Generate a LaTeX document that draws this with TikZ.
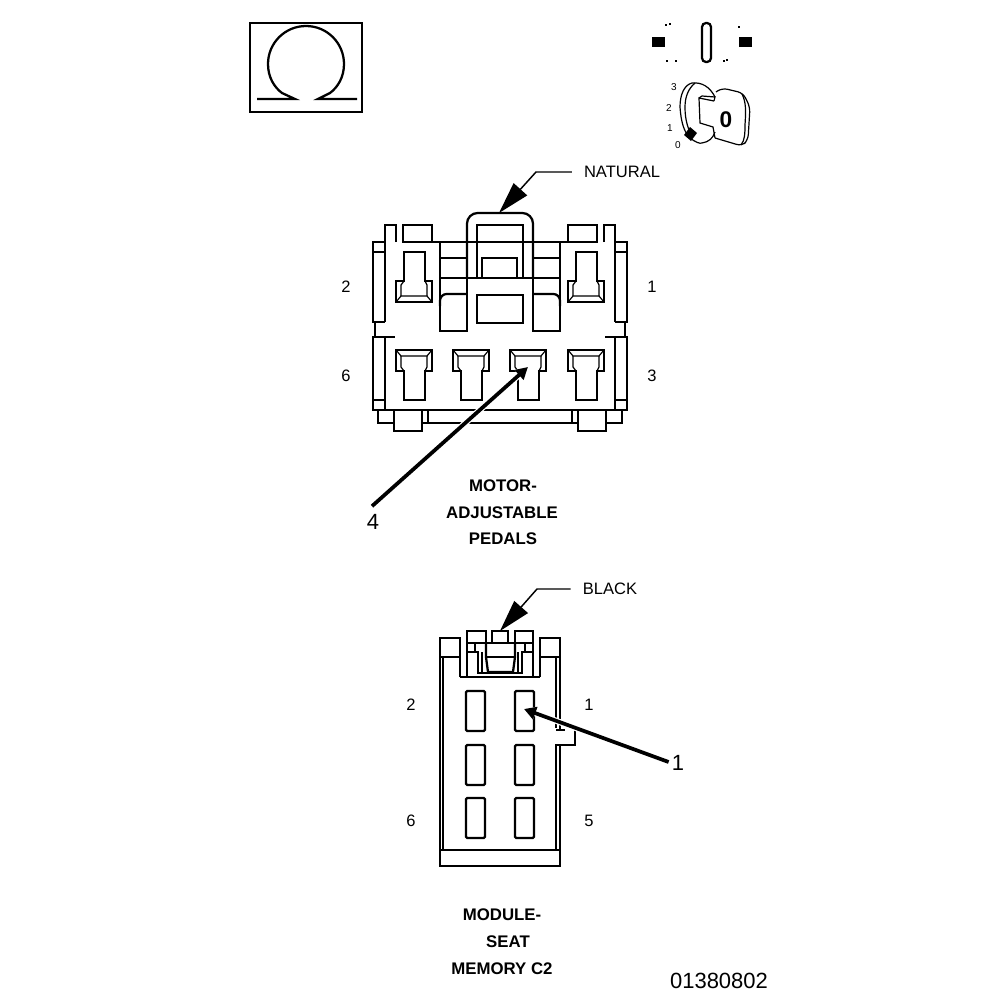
\documentclass[tikz,border=0pt]{standalone}
\usepackage{fontspec}
\setmainfont{Liberation Sans}
\usetikzlibrary{arrows.meta}
\tikzset{
  ln/.style = {line width=1.7pt, line join=miter},
  thin ln/.style = {line width=0.9pt},
  lab/.style = {font=\fontsize{12.4}{14}\selectfont, inner sep=0pt},
  title/.style = {font=\bfseries\fontsize{12.6}{14}\selectfont, inner sep=0pt},
  big/.style = {font=\fontsize{16.5}{18}\selectfont, inner sep=0pt},
  keynum/.style = {font=\fontsize{7.5}{9}\selectfont, inner sep=0pt},
  wedge/.style = {line width=1.1pt, -{Triangle[length=24pt,width=13.5pt]}},
  pointer/.style = {line width=2.8pt, -{Triangle[length=9pt,width=9.5pt]}, preaction={draw=white, line width=4.6pt}},
  termcell/.pic = {
    \draw[ln] (-18,0) -- (18,0) -- (18,21) -- (11,21) -- (11,50) -- (-10,50) -- (-10,21) -- (-18,21) -- cycle;
    \draw[thin ln] (-18,0) -- (-13,6) -- (13,6) -- (18,0);
    \draw[thin ln] (-13,6) -- (-13,17) -- (-10,21);
    \draw[thin ln] (13,6) -- (13,17) -- (11,21);
  }
}
\begin{document}
\begin{tikzpicture}[x=0.75pt,y=-0.75pt]
  \useasboundingbox (0,0) rectangle (1008,1000);

  % omega box
  \draw[ln] (250,23) rectangle (362,112);
  \draw[ln] (257,99) -- (295,99) -- (282,93) .. controls (274,87) and (268,77) .. (268,64) .. controls (268,43) and (285,26) .. (306,26) .. controls (327,26) and (344,43) .. (344,64) .. controls (344,77) and (338,87) .. (330,93) -- (318,99) -- (357,99);

  % key switch
  \fill (652,37) rectangle (665,47);
  \fill (739,37) rectangle (752,47);
  \foreach \dx/\dy in {665/24,669/23,738/26,666/60,675/60,723/60,726/59} {
    \fill (\dx,\dy) rectangle ++(1.5,1.5);
  }
  \draw[ln, rounded corners=3pt] (702,23) rectangle (711,62);
  \draw[thin ln] (715,97) .. controls (710,87) and (702,82) .. (692,83) .. controls (684,85) and (680,95) .. (680,107) .. controls (681,122) and (684,132) .. (690,138) .. controls (695,142) and (700,144) .. (702,143) .. controls (709,142) and (713,138) .. (715,132);
  \draw[thin ln] (695,83) .. controls (689,88) and (685,96) .. (685,107) .. controls (685,120) and (688,130) .. (693,137);
  \draw[thin ln] (714,101) -- (699,98) -- (700,123) -- (713,127) -- (715,138);
  \draw[thin ln] (699,98) -- (702,96) -- (715,97) -- (714,101);
  \draw[thin ln, rounded corners=4pt] (716,92) -- (722,88) -- (743,93) -- (750,107) -- (748,140) -- (742,146) -- (715,138);
  \draw[thin ln] (742,94) .. controls (746,102) and (746,110) .. (745,125) .. controls (745,133) and (745,140) .. (741,145);
  \fill (690,127) -- (697,133) -- (691,141) -- (684,135) -- cycle;
  \node[keynum] (k3) at (674,87) {3};
  \node[keynum] (k2) at (669,108) {2};
  \node[keynum] (k1) at (670,128) {1};
  \node[keynum] (k0) at (678,145) {0};
  \node[inner sep=0pt, font=\bfseries\fontsize{17}{19}\selectfont] (k) at (726,120) {0};

  % motor adjustable pedals connector
  \foreach \s in {1,-1} {
    \begin{scope}[shift={(500,0)}, xscale=\s]
      \draw[ln] (0,242) -- (-97,242) -- (-97,225) -- (-68,225) -- (-68,242);
      \draw[ln] (-104,242) -- (-104,225) -- (-115,225) -- (-115,242) -- (-127,242) -- (-127,322) -- (-125,322) -- (-125,337) -- (-127,337) -- (-127,410) -- (0,410);
      \draw[ln] (-115,242) -- (-115,322) (-115,337) -- (-115,410);
      \draw[ln] (-127,252) -- (-115,252) (-127,322) -- (-115,322) (-125,337) -- (-105,337) (-127,400) -- (-115,400);
      \draw[ln] (-122,410) -- (-122,423) -- (-106,423);
      \draw[ln] (-106,410) -- (-106,431) -- (-78,431) -- (-78,410);
      \draw[ln] (-78,423) -- (0,423) (-72,410) -- (-72,423);
      \draw[ln] (-60,242) -- (-60,331) -- (-33,331) -- (-33,278);
      \draw[ln] (-60,258) -- (-33,258);
      \draw[ln, rounded corners=5pt] (-60,306) -- (-60,294) -- (-33,294);
    \end{scope}
  }
  \draw[ln, rounded corners=8pt] (467,278) -- (467,213) -- (533,213) -- (533,278);
  \draw[ln] (477,278) -- (477,225) -- (523,225) -- (523,278);
  \draw[ln] (482,278) -- (482,258) -- (517,258) -- (517,278);
  \draw[ln] (440,278) -- (560,278);
  \draw[ln] (477,295) rectangle (523,323);
  \pic[yscale=-1] at (414,302) {termcell};
  \pic[yscale=-1] at (586,302) {termcell};
  \foreach \c in {414,471,528,586} {
    \pic at (\c,350) {termcell};
  }

  \node[lab] (natural) at (622,172) {NATURAL};
  \coordinate (naturalbend) at (536,172);
  \coordinate (naturaltip) at (499,213);
  \draw[wedge] (natural.west) ++(-12,0) -- (naturalbend) -- (naturaltip);
  \node[lab] (p2) at (346,287) {2};
  \node[lab] (p1) at (652,287) {1};
  \node[lab] (p6) at (346,376) {6};
  \node[lab] (p3) at (652,376) {3};
  \node[big] (cav4) at (373,522) {4};
  \coordinate (cav4tip) at (528,367);
  \draw[pointer] (cav4.north) ++(-1,-8) -- (cav4tip);
  \node[title] (motor) at (503,486) {MOTOR-};
  \node[title] (adjust) at (502,513) {ADJUSTABLE};
  \node[title] (pedals) at (503,539) {PEDALS};

  % seat memory connector
  \draw[ln] (460,677) -- (460,638) -- (440,638) -- (440,657) -- (460,657);
  \draw[ln] (540,677) -- (540,638) -- (560,638) -- (560,657) -- (540,657);
  \draw[ln] (443,657) -- (443,850) (440,657) -- (440,866) -- (560,866) -- (560,850);
  \draw[line width=2.2pt] (440,850) -- (560,850);
  \draw[ln] (560,657) -- (560,730) (556,657) -- (556,728);
  \draw[ln] (575,730) -- (575,745) -- (556,745) -- (556,850) (560,745) -- (560,850);
  \draw[ln] (556,730) -- (565,730);
  \draw[ln] (460,677) -- (540,677);
  \draw[ln] (467,677) -- (467,631) -- (486,631) -- (486,643);
  \draw[ln] (533,677) -- (533,631) -- (515,631) -- (515,643);
  \draw[ln] (492,643) -- (492,631) -- (508,631) -- (508,643);
  \draw[ln] (467,643) -- (533,643);
  \draw[ln] (467,652) -- (478,652) -- (478,673) -- (522,673) -- (522,652) -- (533,652);
  \draw[ln] (475,643) -- (475,652) (525,643) -- (525,652);
  \draw[ln] (486,643) -- (486,657) -- (488,672) -- (513,672) -- (515,657) -- (515,643);
  \draw[ln] (486,657) -- (515,657) (482,652) -- (482,673) (518,652) -- (518,673);
  \foreach \r in {691,745,798} {
    \draw[ln, rounded corners=1pt] (466,\r) rectangle ++(19,40);
    \draw[ln, rounded corners=1pt] (515,\r) rectangle ++(19,40);
  }

  \node[lab] (black) at (610,589) {BLACK};
  \coordinate (blackbend) at (537,589);
  \coordinate (blacktip) at (500,631);
  \draw[wedge] (black.west) ++(-12,0) -- (blackbend) -- (blacktip);
  \node[lab] (q2) at (411,705) {2};
  \node[lab] (q1) at (589,705) {1};
  \node[lab] (q6) at (411,821) {6};
  \node[lab] (q5) at (589,821) {5};
  \node[big] (cav1) at (678,763) {1};
  \coordinate (cav1tip) at (524,709);
  \draw[pointer] (cav1.west) ++(-3,-1) -- (cav1tip);
  \node[title] (module) at (502,915) {MODULE-};
  \node[title] (seat) at (508,942) {SEAT};
  \node[title] (memory) at (502,969) {MEMORY C2};

  \node[big] (code) at (719,981) {01380802};
\end{tikzpicture}
\end{document}
